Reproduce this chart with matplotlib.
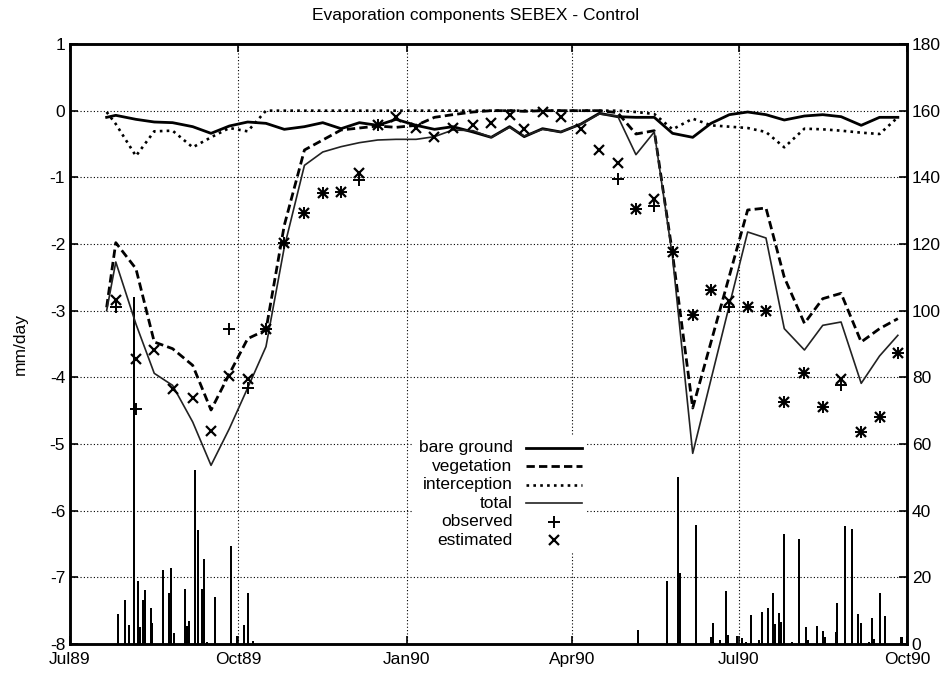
import numpy as np
import pandas as pd
import matplotlib
matplotlib.use("Agg")
import matplotlib.pyplot as plt
import matplotlib.dates as mdates

plt.rcParams['font.family'] = ['Liberation Sans', 'DejaVu Sans']
plt.rcParams['axes.unicode_minus'] = False

nan = np.nan

# dekad dates of the model output
dates = pd.to_datetime([
    '1989-07-21', '1989-07-26',
    '1989-08-06', '1989-08-16', '1989-08-26', '1989-09-06', '1989-09-16', '1989-09-26',
    '1989-10-06', '1989-10-16', '1989-10-26', '1989-11-06', '1989-11-16', '1989-11-26',
    '1989-12-06', '1989-12-16', '1989-12-26', '1990-01-06', '1990-01-16', '1990-01-26',
    '1990-02-06', '1990-02-16', '1990-02-26', '1990-03-06', '1990-03-16', '1990-03-26',
    '1990-04-06', '1990-04-16', '1990-04-26', '1990-05-06', '1990-05-16', '1990-05-26',
    '1990-06-06', '1990-06-16', '1990-06-26', '1990-07-06', '1990-07-16', '1990-07-26',
    '1990-08-06', '1990-08-16', '1990-08-26', '1990-09-06', '1990-09-16', '1990-09-26'])

bare_ground = [-0.10, -0.07, -0.13, -0.17, -0.18, -0.24, -0.34, -0.23, -0.17, -0.19, -0.28,
               -0.24, -0.18, -0.27, -0.18, -0.22, -0.13, -0.22, -0.28, -0.24, -0.32, -0.40,
               -0.24, -0.39, -0.27, -0.32, -0.20, -0.04, -0.09, -0.10, -0.10, -0.34, -0.40,
               -0.19, -0.06, -0.02, -0.06, -0.14, -0.08, -0.06, -0.09, -0.22, -0.10, -0.10]

vegetation = [-2.95, -1.98, -2.37, -3.47, -3.57, -3.82, -4.49, -3.95, -3.42, -3.29, -1.72,
              -0.59, -0.44, -0.29, -0.26, -0.23, -0.25, -0.22, -0.10, -0.06, -0.02, 0.00,
              0.00, -0.01, 0.00, 0.00, 0.00, 0.00, -0.03, -0.35, -0.30, -2.15, -4.46,
              -3.47, -2.48, -1.49, -1.46, -2.50, -3.19, -2.82, -2.74, -3.47, -3.27, -3.12]

interception = [-0.02, -0.20, -0.68, -0.31, -0.30, -0.55, -0.40, -0.26, -0.31, 0.00, 0.00,
                0.00, 0.00, 0.00, 0.00, 0.00, 0.00, 0.00, 0.00, 0.00, 0.00, 0.00,
                0.00, 0.00, 0.00, 0.00, 0.00, 0.00, 0.00, -0.02, -0.05, -0.28, -0.12,
                -0.22, -0.24, -0.26, -0.32, -0.55, -0.27, -0.28, -0.30, -0.33, -0.35, -0.10]

total = [-3.00, -2.27, -3.20, -3.94, -4.12, -4.67, -5.32, -4.77, -4.16, -3.54, -2.05,
         -0.82, -0.62, -0.54, -0.48, -0.44, -0.43, -0.43, -0.39, -0.29, -0.30, -0.40,
         -0.25, -0.38, -0.28, -0.32, -0.20, -0.05, -0.08, -0.66, -0.32, -2.20, -5.14,
         -4.03, -2.92, -1.82, -1.91, -3.27, -3.59, -3.22, -3.17, -4.09, -3.68, -3.37]

observed = [nan, -2.94, -4.47, nan, nan, nan, nan, -3.27, -4.16, -3.27, -1.99,
            -1.54, -1.24, -1.22, -1.04, -0.22, nan, nan, nan, nan, nan, nan,
            nan, nan, nan, nan, nan, nan, -1.03, -1.47, -1.43, -2.12, -3.06,
            -2.69, -2.94, -2.94, -3.00, -4.37, -3.94, -4.44, -4.12, -4.82, -4.59, -3.64]

estimated = [nan, -2.84, -3.72, -3.59, -4.17, -4.31, -4.80, -3.98, -4.03, -3.27, -1.99,
             -1.54, -1.24, -1.22, -0.94, -0.22, -0.09, -0.26, -0.39, -0.26, -0.22, -0.18,
             -0.07, -0.27, -0.02, -0.09, -0.27, -0.59, -0.78, -1.47, -1.32, -2.12, -3.06,
             -2.69, -2.85, -2.94, -3.00, -4.37, -3.94, -4.44, -4.02, -4.82, -4.59, -3.64]

# daily rainfall (right axis)
rain_dates = pd.to_datetime([
    '1989-07-27', '1989-07-31', '1989-08-02', '1989-08-05', '1989-08-07', '1989-08-08',
    '1989-08-10', '1989-08-11', '1989-08-14', '1989-08-15', '1989-08-21', '1989-08-24',
    '1989-08-25', '1989-08-27', '1989-09-02', '1989-09-03', '1989-09-04', '1989-09-07',
    '1989-09-09', '1989-09-11', '1989-09-12', '1989-09-14', '1989-09-18', '1989-09-27',
    '1989-09-30', '1989-10-04', '1989-10-06', '1989-10-09',
    '1990-05-07', '1990-05-23', '1990-05-29', '1990-05-30', '1990-06-08', '1990-06-16',
    '1990-06-17', '1990-06-21', '1990-06-24', '1990-06-25', '1990-06-30', '1990-07-03',
    '1990-07-05', '1990-07-08', '1990-07-12', '1990-07-14', '1990-07-17', '1990-07-20',
    '1990-07-21', '1990-07-23', '1990-07-24', '1990-07-26', '1990-07-30', '1990-08-03',
    '1990-08-07', '1990-08-08', '1990-08-13', '1990-08-16', '1990-08-17', '1990-08-23',
    '1990-08-24', '1990-08-28', '1990-09-01', '1990-09-04', '1990-09-06', '1990-09-10',
    '1990-09-12', '1990-09-13', '1990-09-16', '1990-09-19', '1990-09-28'])
rain_mm = [9.0, 13.2, 5.8, 104.0, 18.8, 5.1,
           13.2, 16.3, 10.7, 6.4, 22.1, 15.3,
           22.9, 3.3, 16.6, 5.4, 6.8, 52.2,
           34.1, 16.5, 25.4, 0.5, 14.2, 29.3,
           2.5, 5.6, 15.3, 1.0,
           4.1, 18.8, 50.2, 21.4, 35.6, 2.0,
           6.3, 1.2, 15.8, 2.8, 2.3, 1.7,
           0.7, 8.6, 1.2, 9.7, 10.7, 15.3,
           6.1, 9.4, 6.6, 33.1, 0.5, 31.5,
           5.1, 1.2, 5.3, 3.9, 2.0, 3.6,
           12.4, 35.4, 34.4, 8.9, 6.3, 0.7,
           7.8, 1.5, 15.3, 8.4, 2.2]

month_ticks = pd.to_datetime(['1989-07-01', '1989-10-01', '1990-01-01',
                              '1990-04-01', '1990-07-01', '1990-10-01'])

fig = plt.figure(figsize=(9.51, 6.76), dpi=100)
ax = fig.add_axes([70 / 951, 32 / 676, 837 / 951, 600 / 676])
ax2 = ax.twinx()
ax.set_zorder(ax2.get_zorder() + 1)
ax.patch.set_visible(False)

# rainfall impulses
ax2.bar(rain_dates, rain_mm, width=1.1, color='black', linewidth=0)

ax.plot(dates, bare_ground, '-', color='black', lw=2.0, label='bare ground')
ax.plot(dates, vegetation, color='black', lw=2.0, dashes=(3, 1.5), label='vegetation')
ax.plot(dates, interception, color='black', lw=1.9, dashes=(1, 1.6), label='interception')
ax.plot(dates, total, '-', color='#222222', lw=1.2, label='total')
ax.plot(dates, observed, '+', color='black', ms=8, mew=1.4, ls='none', label='observed')
ax.plot(dates, estimated, 'x', color='black', ms=7, mew=1.6, ls='none', label='estimated')

ax.set_xlim(month_ticks[0], month_ticks[-1])
ax.set_ylim(-8, 1)
ax2.set_ylim(0, 180)
ax.set_yticks(range(-8, 2))
ax2.set_yticks(range(0, 181, 20))
ax.set_xticks(month_ticks)
ax.xaxis.set_major_formatter(mdates.DateFormatter('%b%y'))

ax.grid(True, color='black', lw=0.8, ls=(0, (1, 2)))
ax.tick_params(direction='in', length=6, width=1.2, labelsize=12.5, top=True)
ax.tick_params(axis='x', pad=6)
ax2.tick_params(direction='in', length=6, width=1.2, labelsize=12.5)
for a in (ax, ax2):
    for s in a.spines.values():
        s.set_linewidth(1.8)

ax.set_ylabel('mm/day', fontsize=12.5, labelpad=16)
fig.suptitle('Evaporation components SEBEX - Control', x=0.5, y=1 - 8 / 676,
             va='top', fontsize=12.5)

leg = ax.legend(loc='center', bbox_to_anchor=(0.514, 0.25), markerfirst=False,
                fontsize=12.5, frameon=True, framealpha=1, edgecolor='none',
                fancybox=False, handlelength=3.2, labelspacing=0.2,
                borderpad=0.3, handletextpad=0.8)
# right-align the legend labels like the original
leg._legend_box.align = 'right'
for vp in leg._legend_box.get_children()[1].get_children():
    for hp in vp.get_children():
        hp.align = 'center'

fig.savefig('out.png', dpi=100)
